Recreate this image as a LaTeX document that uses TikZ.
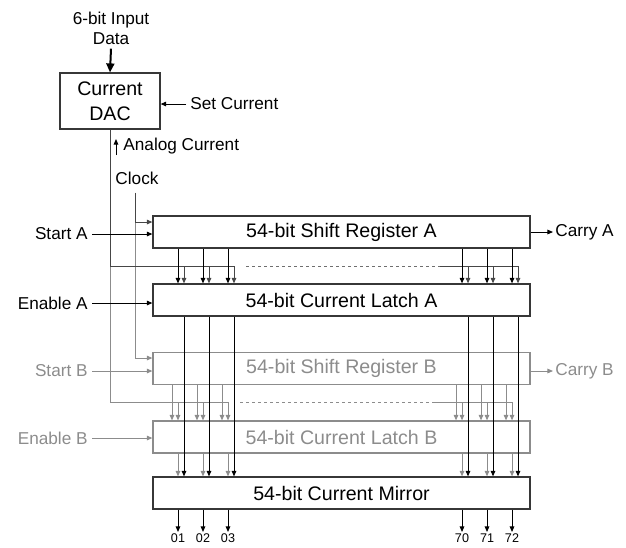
\documentclass[tikz,border=0pt]{standalone}
\usepackage{fontspec}
\setmainfont{Liberation Sans}
\usetikzlibrary{arrows.meta}

\begin{document}
\begin{tikzpicture}[x=0.5pt, y=-0.5pt]
  % Colors
  \definecolor{framecol}{RGB}{55,55,55}
  \definecolor{buscol}{RGB}{70,70,70}
  \definecolor{dashcol}{RGB}{110,110,110}
  \definecolor{bcol}{RGB}{140,140,140}
  %
  \tikzset{
    blk/.style={draw=framecol, line width=0.6pt, minimum width=188.5pt, minimum height=16pt,
                inner sep=0pt, font=\fontsize{9.8}{12}\selectfont},
    blkb/.style={blk, draw=bcol, text=bcol},
    lbl/.style={inner sep=2pt, font=\fontsize{8.6}{10}\selectfont},
    lblb/.style={lbl, text=bcol},
    pin/.style={inner sep=0.5pt, font=\fontsize{6.3}{7}\selectfont},
    tip/.style={-{Triangle[length=2.8pt, width=2.3pt]}},
    wire/.style={line width=0.5pt},
    wireb/.style={wire, bcol},
    dots/.style={wire, dash pattern=on 1.5pt off 1.5pt},
  }
  %
  \useasboundingbox (0,0) rectangle (626,547);
  %
  % === CURRENT DAC ===
  \node[lbl, align=center] (din) at (111,28) {6-bit Input\\Data};
  \node[blk, minimum width=50pt, minimum height=28pt, align=center,
        font=\fontsize{9.8}{12.5}\selectfont] (dac) at (110,101) {Current\\DAC};
  \node[lbl, anchor=west] (setc) at (186,104) {Set Current};
  \node[lbl, anchor=west] (anc) at (119,146) {Analog Current};
  \node[lbl] (clk) at (137,178) {Clock};
  \draw[line width=1pt, -{Triangle[length=4.5pt, width=4pt]}] (din.south) -- (dac.north);
  \draw[wire, tip] (setc.west) -- (setc.west -| dac.east);
  \coordinate (antail) at (116,155);
  \draw[wire, tip] (antail) -- ++(0,-16);
  %
  % === BLOCKS ===
  \node[blk]  (shA) at (341.5,232)   {54-bit Shift Register A};
  \node[blk]  (ltA) at (341.5,300)   {54-bit Current Latch A};
  \node[blkb] (shB) at (341.5,368.5) {54-bit Shift Register B};
  \node[blkb] (ltB) at (341.5,437)   {54-bit Current Latch B};
  \node[blk]  (mir) at (341.5,493)   {54-bit Current Mirror};
  %
  % === SIDE LABELS ===
  \node[lbl,  anchor=east] (stA) at (92,234) {Start A};
  \node[lbl,  anchor=east] (enA) at (92,303) {Enable A};
  \node[lblb, anchor=east] (stB) at (92,371) {Start B};
  \node[lblb, anchor=east] (enB) at (92,438) {Enable B};
  \node[lbl,  anchor=west, inner sep=1pt] (cyA) at (553,232) {Carry A};
  \node[lblb, anchor=west, inner sep=1pt] (cyB) at (553,371) {Carry B};
  %
  % Columns and rows
  \foreach \p [count=\i] in {178,203,228,462,487,512} {
    \coordinate (o\i) at (\p,0);    % shift A out / latch B / mirror out
    \coordinate (k\i) at (\p+6,0);  % latch A column
    \coordinate (s\i) at (\p-6,0);  % shift B out
  }
  \coordinate (busA) at (0,266);
  \coordinate (busB) at (0,402);
  \coordinate (ckx) at (135,0);
  \coordinate (ckA) at (0,222);
  \coordinate (ckB) at (0,358);
  \coordinate (dotA0) at (246,0);
  \coordinate (dotA1) at (440,0);
  \coordinate (dotB0) at (240,0);
  \coordinate (dotB1) at (432,0);
  \coordinate (pinrow) at (0,532);
  %
  % === B SIDE (gray) ===
  \draw[wireb] (dac.south |- busA) |- (busB -| o3);
  \draw[dots, bcol] (busB -| dotB0) -- (busB -| dotB1);
  \draw[wireb] (busB -| dotB1) -- (busB -| o6);
  \draw[wireb, tip] (ckx |- ckA) |- (ckB -| shB.west);
  \foreach \i in {1,...,6} {
    \draw[wireb, tip] (shB.south -| s\i) -- (ltB.north -| s\i);
    \draw[wireb, tip] (busB -| o\i) -- (ltB.north -| o\i);
    \draw[wireb, tip] (ltB.south -| o\i) -- (mir.north -| o\i);
  }
  \draw[wireb, tip] (stB.east) -- (stB.east -| shB.west);
  \draw[wireb, tip] (enB.east) -- (enB.east -| ltB.west);
  \draw[wireb, tip] (shB.east |- cyB) -- (cyB.west);
  %
  % === A SIDE ===
  \draw[wire, buscol] (dac.south) |- (busA -| k3);
  \draw[dots, dashcol] (busA -| dotA0) -- (busA -| dotA1);
  \draw[wire, buscol] (busA -| dotA1) -- (busA -| k6);
  \draw[wire, buscol, tip] ([yshift=-2pt]clk.south -| ckx) |- (ckA -| shA.west);
  \foreach \i in {1,...,6} {
    \draw[wire, tip] (shA.south -| o\i) -- (ltA.north -| o\i);
    \draw[wire, buscol, tip] (busA -| k\i) -- (ltA.north -| k\i);
    \draw[wire, tip] (ltA.south -| k\i) -- (mir.north -| k\i);
  }
  \draw[wire, tip] (stA.east) -- (stA.east -| shA.west);
  \draw[wire, tip] (enA.east) -- (enA.east -| ltA.west);
  \draw[wire, tip] (shA.east |- cyA) -- (cyA.west);
  %
  % === OUTPUTS ===
  \foreach \lab [count=\i] in {01,02,03,70,71,72} {
    \node[pin, anchor=north] (pin\i) at (o\i |- pinrow) {\lab};
    \draw[wire, tip] (mir.south -| o\i) -- (pin\i.north);
  }
  %
\end{tikzpicture}
\end{document}
